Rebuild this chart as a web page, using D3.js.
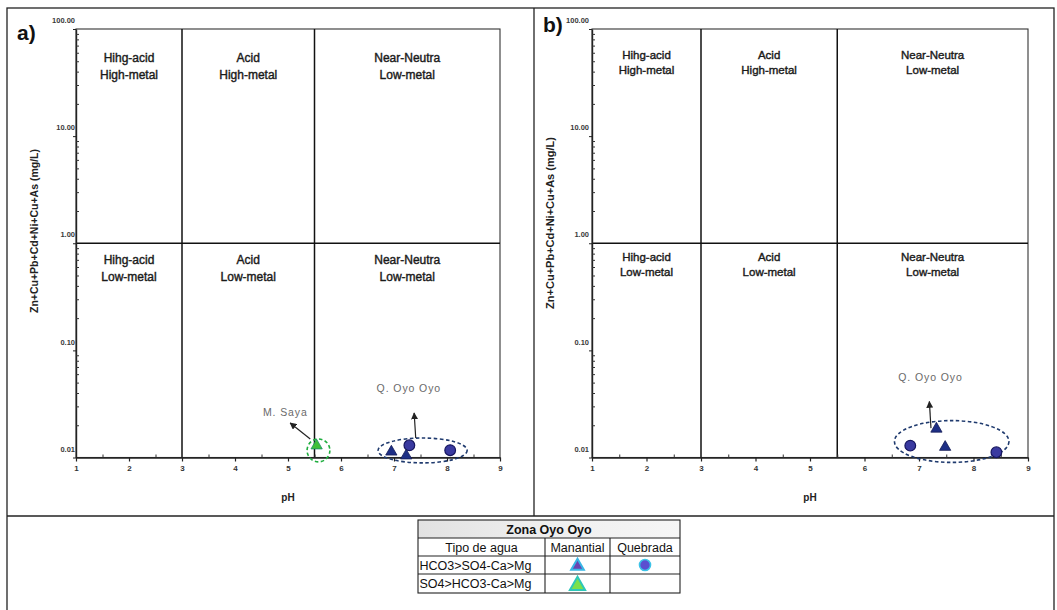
<!DOCTYPE html>
<html>
<head>
<meta charset="utf-8">
<script src="https://cdn.jsdelivr.net/npm/d3@7"></script>
<style>
  body { margin: 0; background: #fff; }
  svg { display: block; font-family: "Liberation Sans", Arial, sans-serif; }
</style>
</head>
<body>
<svg id="chart" width="1057" height="610"></svg>
<script>
// ---- data ----------------------------------------------------------------
const phTicks = [1, 2, 3, 4, 5, 6, 7, 8, 9];
const phMinorTicks = [1.5, 2.5, 3.5, 4.5, 5.5, 6.5, 7.5, 8.5];
const metalTicks = [0.01, 0.1, 1, 10, 100];
const phDomain = [1, 9];
const metalDomain = [0.01, 100];
const phDividers = [3, 5.5];
const metalDivider = 1;

// Ficklin-type zones by pH band, upper (high metal) and lower (low metal) names
const zonePh = [[1, 3], [3, 5.5], [5.5, 9]];
const zoneHighNames = [["Hihg-acid", "High-metal"], ["Acid", "High-metal"], ["Near-Neutra", "Low-metal"]];
const zoneLowNames = [["Hihg-acid", "Low-metal"], ["Acid", "Low-metal"], ["Near-Neutra", "Low-metal"]];

const yTitle = "Zn+Cu+Pb+Cd+Ni+Cu+As (mg/L)";
const xTitle = "pH";

// panel a) samples
const aManantialHCO3 = [{ ph: 6.95, metal: 0.0113 }, { ph: 7.23, metal: 0.0104 }];
const aQuebradaHCO3 = [{ ph: 7.29, metal: 0.0130 }, { ph: 8.06, metal: 0.0117 }];
const aManantialSO4 = [{ ph: 5.54, metal: 0.0129 }];
// panel b) samples
const bManantialHCO3 = [{ ph: 7.32, metal: 0.0185 }, { ph: 7.48, metal: 0.0125 }];
const bQuebradaHCO3 = [{ ph: 6.84, metal: 0.0129 }, { ph: 8.42, metal: 0.0112 }];
const bManantialSO4 = [];

// group outlines (pH range, metal range) and call-outs
const aGroups = [
  { ph: [6.70, 8.38], metal: [0.0089, 0.0152], color: "#1f3a6e" },
  { ph: [5.36, 5.79], metal: [0.0091, 0.0149], color: "#1fae3f" }
];
const aCallouts = [
  { text: "Q. Oyo Oyo", from: [7.41, 0.0152], to: [7.38, 0.0260], at: [7.28, 0.0409] },
  { text: "M. Saya", from: [5.42, 0.0149], to: [5.04, 0.0210], at: [4.95, 0.0245] }
];
const bGroups = [
  { ph: [6.55, 8.65], metal: [0.0090, 0.0221], color: "#1f3a6e" }
];
const bCallouts = [
  { text: "Q. Oyo Oyo", from: [7.22, 0.0188], to: [7.19, 0.0333], at: [7.21, 0.0513] }
];

// legend table
const legendTitle = "Zona Oyo Oyo";
const legendHeader = ["Tipo de agua", "Manantial", "Quebrada"];
const legendRows = ["HCO3>SO4-Ca>Mg", "SO4>HCO3-Ca>Mg"];

// ---- drawing -------------------------------------------------------------
const svg = d3.select("#chart");
const W = 1057, H = 610;

svg.append("rect").attr("width", W).attr("height", H).attr("fill", "#fff");

// outer frame with separators
const frame = svg.append("g").attr("stroke", "#222").attr("stroke-width", 1.3).attr("fill", "none");
frame.append("rect").attr("x", 7).attr("y", 8).attr("width", 1047).attr("height", 640);
frame.append("line").attr("x1", 534).attr("x2", 534).attr("y1", 8).attr("y2", 516);
frame.append("line").attr("x1", 7).attr("x2", 1054).attr("y1", 516).attr("y2", 516);

const colors = {
  triFill: "#1e2f86", triStroke: "#141c55",
  dotFill: "#3a3aa0", dotStroke: "#161660",
  greenFill: "#3fbf3a", greenStroke: "#1c8f6a"
};

const arrowId = "arrowHead";
const defs = svg.append("defs");
defs.append("marker")
  .attr("id", arrowId).attr("viewBox", "0 0 10 10").attr("refX", 9).attr("refY", 5)
  .attr("markerWidth", 7).attr("markerHeight", 7).attr("orient", "auto-start-reverse")
  .attr("markerUnits", "userSpaceOnUse")
  .append("path").attr("d", "M0,0 L10,5 L0,10 z").attr("fill", "#222");

function drawPanel(opt) {
  const x = d3.scaleLinear().domain(phDomain).range(opt.xRange);
  const y = d3.scaleLog().domain(metalDomain).range([457.5, 29]);
  const g = svg.append("g");

  // plot box
  g.append("rect")
    .attr("x", x(1)).attr("y", y(100)).attr("width", x(9) - x(1)).attr("height", y(0.01) - y(100))
    .attr("fill", "none").attr("stroke", "#333").attr("stroke-width", 1.1);

  // zone dividers
  phDividers.forEach(p => {
    g.append("line").attr("x1", x(p)).attr("x2", x(p)).attr("y1", y(100)).attr("y2", y(0.01))
      .attr("stroke", "#111").attr("stroke-width", 1.5);
  });
  g.append("line").attr("x1", x(1)).attr("x2", x(9)).attr("y1", y(metalDivider)).attr("y2", y(metalDivider))
    .attr("stroke", "#111").attr("stroke-width", 1.5);

  // zone names
  const zl = g.append("g").attr("text-anchor", "middle").attr("fill", "#1a1a1a")
    .attr("stroke", "#1a1a1a").attr("stroke-width", 0.4)
    .attr("font-size", opt.zoneFont + "px");
  zonePh.forEach((r, i) => {
    const cx = (x(r[0]) + x(r[1])) / 2;
    zoneHighNames[i].forEach((t, k) => {
      zl.append("text").attr("x", cx).attr("y", y(100) + opt.highOffset + k * opt.lineGap).text(t);
    });
    zoneLowNames[i].forEach((t, k) => {
      zl.append("text").attr("x", cx).attr("y", y(metalDivider) + opt.lowOffset + k * opt.lineGap).text(t);
    });
  });

  // x axis: major ticks with labels, minor ticks upward
  const xAxis = g.append("g").attr("transform", `translate(0,${y(0.01)})`)
    .call(d3.axisBottom(x).tickValues(phTicks).tickFormat(d3.format("d")).tickSizeInner(4).tickSizeOuter(0).tickPadding(4));
  xAxis.select(".domain").attr("stroke", "#222").attr("stroke-width", 1.4);
  xAxis.selectAll(".tick line").attr("stroke", "#222").attr("stroke-width", 1.2);
  xAxis.selectAll(".tick text").attr("font-size", "8px").attr("font-weight", "bold")
    .attr("fill", "#333").attr("font-family", "Liberation Sans, Arial, sans-serif");
  const xMinor = g.append("g").attr("transform", `translate(0,${y(0.01)})`)
    .call(d3.axisBottom(x).tickValues(phMinorTicks).tickSize(-3).tickFormat(""));
  xMinor.select(".domain").remove();
  xMinor.selectAll(".tick line").attr("stroke", "#333");

  // y axis: decades labelled, minor log ticks
  const yAxis = g.append("g").attr("transform", `translate(${x(1)},0)`)
    .call(d3.axisLeft(y).tickValues(metalTicks).tickFormat(d3.format(".2f")).tickSizeInner(3).tickSizeOuter(0).tickPadding(1));
  yAxis.select(".domain").attr("stroke", "#222").attr("stroke-width", 1.4);
  yAxis.selectAll(".tick line").attr("stroke", "#222");
  yAxis.selectAll(".tick text").attr("font-size", "7.5px").attr("font-weight", "bold")
    .attr("fill", "#3a3a3a").attr("dy", "-0.85em").attr("x", opt.yLabelDx)
    .attr("font-family", "Liberation Sans, Arial, sans-serif");
  const minorY = [];
  metalTicks.slice(0, -1).forEach(d => { for (let m = 2; m <= 9; m++) minorY.push(d * m); });
  const yMinor = g.append("g").attr("transform", `translate(${x(1)},0)`)
    .call(d3.axisLeft(y).tickValues(minorY).tickSize(-3).tickFormat(""));
  yMinor.select(".domain").remove();
  yMinor.selectAll(".tick line").attr("stroke", "#333");

  // axis titles
  g.append("text").attr("x", (x(1) + x(9)) / 2).attr("y", 501).attr("text-anchor", "middle")
    .attr("font-size", "10px").attr("font-weight", "bold").attr("fill", "#222").text(xTitle);
  g.append("text").attr("transform", `translate(${opt.yTitleX},${opt.yTitleY}) rotate(-90)`)
    .attr("text-anchor", "middle").attr("font-size", opt.yTitleFont + "px").attr("font-weight", "bold")
    .attr("fill", "#222").text(yTitle);

  // panel tag
  g.append("text").attr("x", opt.tag.x).attr("y", opt.tag.y).attr("font-size", "21px")
    .attr("font-weight", "bold").attr("fill", "#111").text(opt.tag.text);

  // group outlines
  opt.groups.forEach(gr => {
    const cx = (x(gr.ph[0]) + x(gr.ph[1])) / 2, cy = (y(gr.metal[0]) + y(gr.metal[1])) / 2;
    g.append("ellipse").attr("cx", cx).attr("cy", cy)
      .attr("rx", Math.abs(x(gr.ph[1]) - x(gr.ph[0])) / 2)
      .attr("ry", Math.abs(y(gr.metal[0]) - y(gr.metal[1])) / 2)
      .attr("fill", "none").attr("stroke", gr.color).attr("stroke-width", 1.6)
      .attr("stroke-dasharray", "3.5,2.5");
  });

  // call-outs
  opt.callouts.forEach(c => {
    g.append("line").attr("x1", x(c.from[0])).attr("y1", y(c.from[1]))
      .attr("x2", x(c.to[0])).attr("y2", y(c.to[1]))
      .attr("stroke", "#222").attr("stroke-width", 1.2).attr("marker-end", `url(#${arrowId})`);
    g.append("text").attr("x", x(c.at[0])).attr("y", y(c.at[1])).attr("text-anchor", "middle")
      .attr("font-size", "10.5px").attr("letter-spacing", "0.9px").attr("fill", "#6a6a6a").text(c.text);
  });

  // samples
  const tri = d3.symbol().type(d3.symbolTriangle).size(55);
  const dot = d3.symbol().type(d3.symbolCircle).size(90);
  g.selectAll(".mq").data(opt.quebrada).join("path")
    .attr("d", dot).attr("transform", d => `translate(${x(d.ph)},${y(d.metal)})`)
    .attr("fill", colors.dotFill).attr("stroke", colors.dotStroke).attr("stroke-width", 1.2);
  g.selectAll(".mm").data(opt.manantial).join("path")
    .attr("d", tri).attr("transform", d => `translate(${x(d.ph)},${y(d.metal)})`)
    .attr("fill", colors.triFill).attr("stroke", colors.triStroke).attr("stroke-width", 0.8);
  g.selectAll(".ms").data(opt.manantialSO4).join("path")
    .attr("d", tri).attr("transform", d => `translate(${x(d.ph)},${y(d.metal)})`)
    .attr("fill", colors.greenFill).attr("stroke", colors.greenStroke).attr("stroke-width", 0.8);
}

drawPanel({
  xRange: [76, 500], tag: { text: "a)", x: 17, y: 40 },
  zoneFont: 12, highOffset: 33, lowOffset: 21, lineGap: 16.5,
  yLabelDx: -1, yTitleX: 38, yTitleY: 231, yTitleFont: 10.5,
  groups: aGroups, callouts: aCallouts,
  manantial: aManantialHCO3, quebrada: aQuebradaHCO3, manantialSO4: aManantialSO4
});
drawPanel({
  xRange: [592, 1028], tag: { text: "b)", x: 543, y: 32 },
  zoneFont: 11.5, highOffset: 30, lowOffset: 18, lineGap: 14.5,
  yLabelDx: -3, yTitleX: 554, yTitleY: 223, yTitleFont: 11,
  groups: bGroups, callouts: bCallouts,
  manantial: bManantialHCO3, quebrada: bQuebradaHCO3, manantialSO4: bManantialSO4
});

// ---- legend table --------------------------------------------------------
const tbl = svg.append("g");
const colX = [418, 545, 610, 680];
const rowY = [520, 538, 556, 574, 593];
const fs = 12.5;
const grad = defs.append("linearGradient").attr("id", "headFill");
grad.append("stop").attr("offset", "0%").attr("stop-color", "#e2e2e2");
grad.append("stop").attr("offset", "45%").attr("stop-color", "#eeeeee");
grad.append("stop").attr("offset", "100%").attr("stop-color", "#f6f6f6");
tbl.append("rect").attr("x", colX[0]).attr("y", rowY[0]).attr("width", colX[3] - colX[0])
  .attr("height", rowY[1] - rowY[0]).attr("fill", "url(#headFill)");
tbl.append("text").attr("x", (colX[0] + colX[3]) / 2).attr("y", rowY[0] + 13.5).attr("text-anchor", "middle")
  .attr("font-size", fs + "px").attr("font-weight", "bold").attr("fill", "#111").text(legendTitle);
legendHeader.forEach((t, i) => {
  tbl.append("text").attr("x", (colX[i] + colX[i + 1]) / 2).attr("y", rowY[1] + 13.5)
    .attr("text-anchor", "middle").attr("font-size", fs + "px").attr("fill", "#111").text(t);
});
legendRows.forEach((t, i) => {
  tbl.append("text").attr("x", colX[0] + 1.5).attr("y", rowY[2 + i] + 13.5)
    .attr("font-size", fs + "px").attr("fill", "#111").text(t);
});
const lg = tbl.append("g").attr("stroke", "#222").attr("stroke-width", 1.1).attr("fill", "none");
lg.append("rect").attr("x", colX[0]).attr("y", rowY[0]).attr("width", colX[3] - colX[0]).attr("height", rowY[4] - rowY[0]);
rowY.slice(1, 4).forEach(v => lg.append("line").attr("x1", colX[0]).attr("x2", colX[3]).attr("y1", v).attr("y2", v));
colX.slice(1, 3).forEach(v => lg.append("line").attr("x1", v).attr("x2", v).attr("y1", rowY[1]).attr("y2", rowY[4]));

const lgTri = d3.symbol().type(d3.symbolTriangle).size(70);
const lgDot = d3.symbol().type(d3.symbolCircle).size(95);
tbl.append("path").attr("d", lgTri)
  .attr("transform", `translate(${(colX[1] + colX[2]) / 2},${(rowY[2] + rowY[3]) / 2 + 1})`)
  .attr("fill", "#6a44b0").attr("stroke", "#39b6e6").attr("stroke-width", 2);
tbl.append("path").attr("d", lgDot)
  .attr("transform", `translate(${(colX[2] + colX[3]) / 2},${(rowY[2] + rowY[3]) / 2})`)
  .attr("fill", "#5b4fd0").attr("stroke", "#3cc3e8").attr("stroke-width", 1.6);
tbl.append("path").attr("d", d3.symbol().type(d3.symbolTriangle).size(100))
  .attr("transform", `translate(${(colX[1] + colX[2]) / 2},${(rowY[3] + rowY[4]) / 2 + 2})`)
  .attr("fill", "#7be04a").attr("stroke", "#2ec7b8").attr("stroke-width", 2);
</script>
</body>
</html>
